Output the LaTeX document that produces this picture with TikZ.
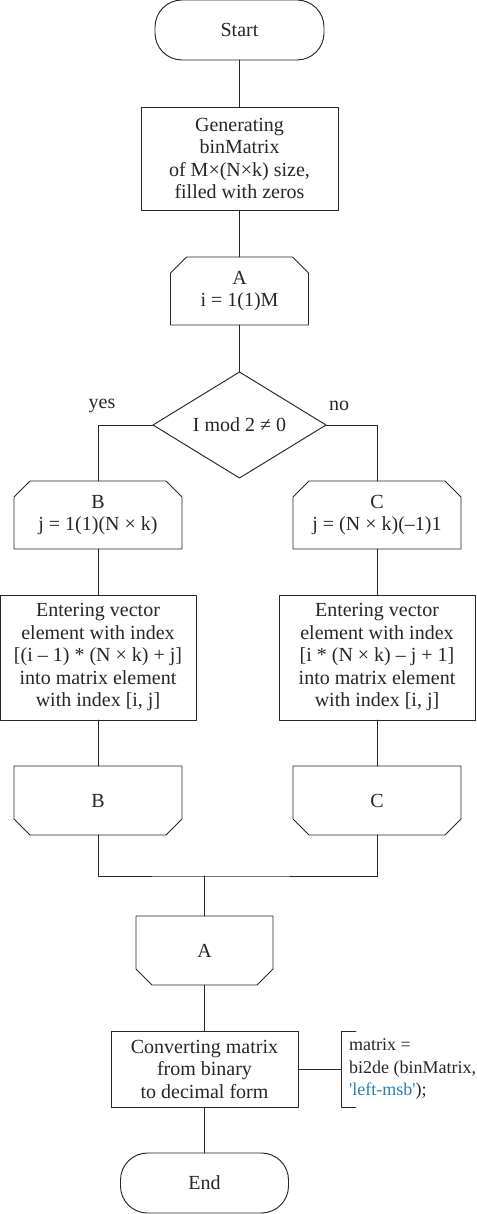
\documentclass[tikz,border=0pt]{standalone}
\usepackage{fontspec}
\setmainfont{Liberation Serif}
\usetikzlibrary{positioning,calc,shapes.geometric}
\definecolor{ink}{HTML}{262626}
\definecolor{msb}{HTML}{2B7BB9}

\begin{document}
\begin{tikzpicture}[
  x=1pt,
  y=-1pt,
  line cap=round,
  line join=round,
  every node/.style={
    align=center,
    text=ink,
    font=\fontsize{20}{22.5}\selectfont,
  },
  flow/.style={
    draw=ink,
    line width=0.95pt,
    inner sep=2pt,
    outer sep=0pt,
  },
  termbox/.style={
    flow,
    rounded corners=27pt,
    minimum width=169pt,
    minimum height=60pt,
  },
  procbox/.style={
    flow,
    minimum width=197pt,
  },
  decbox/.style={
    flow,
    diamond,
    aspect=1.63,
    inner sep=0pt,
    minimum width=173pt,
    minimum height=106pt,
  },
  cycbox/.style={
    inner sep=2pt,
    outer sep=0pt,
    minimum width=168pt,
    minimum height=68pt,
  },
  conn/.style={
    draw=ink,
    line width=0.95pt,
  },
  tag/.style={
    inner sep=1pt,
  },
]
\useasboundingbox (0,0) rectangle (476,1214);

% --- nodes ---
\node[termbox] (start) at (239.5,30) {Start};

\node[procbox, minimum height=103pt, below=47pt of start] (gen) {
  Generating\\
  binMatrix\\
  of M×(N×k) size,\\
  filled with zeros
};

\node[cycbox, minimum width=138pt, below=47pt of gen] (cycA) {
  A\\
  i = 1(1)M
};

\node[decbox, below=47pt of cycA] (dec) {I mod 2 ≠ 0};

\node[cycbox] (cycB) at (98,515) {
  B\\
  j = 1(1)(N × k)
};

\node[cycbox] (cycC) at (377,515) {
  C\\
  j = (N × k)(–1)1
};

\node[procbox, minimum width=196pt, minimum height=125pt, below=46pt of cycB] (entB) {
  Entering vector\\
  element with index\\
  {[}(i – 1) * (N × k) + j]\\
  into matrix element\\
  with index [i, j]
};

\node[procbox, minimum width=196pt, minimum height=125pt, below=46pt of cycC] (entC) {
  Entering vector\\
  element with index\\
  {[}i * (N × k) – j + 1]\\
  into matrix element\\
  with index [i, j]
};

\node[cycbox, minimum height=69pt, below=46pt of entB] (finB) {B};
\node[cycbox, minimum height=69pt, below=46pt of entC] (finC) {C};

\coordinate (mrg) at (204.5,876);

\node[cycbox, minimum width=137pt, minimum height=69pt, below=40pt of mrg] (finA) {A};

\node[procbox, minimum width=187pt, minimum height=76pt, below=46pt of finA] (conv) {
  Converting matrix\\
  from binary\\
  to decimal form
};

\node[termbox, minimum width=168pt, below=46pt of conv] (stop) {End};

\coordinate (brk) at ($(conv.east)+(43,0)$);
\node[anchor=west, align=left, inner sep=0pt, font=\fontsize{18}{22.5}\selectfont]
  (note) at ($(brk)+(8,0)$) {
  matrix =\\
  bi2de (binMatrix,\\
  {\color{msb}\textquotesingle left-msb\textquotesingle});
};

\node[tag] (yes) at ($(dec.west)+(-51,-19)$) {yes};
\node[tag] (no) at ($(dec.east)+(13,-19)$) {no};

% --- loop limits ---
\foreach \n in {cycA,cycB,cycC}
  \draw[conn] (\n.south west) -- ($(\n.north west)+(0,16)$)
    -- ($(\n.north west)+(16,0)$) -- ($(\n.north east)+(-16,0)$)
    -- ($(\n.north east)+(0,16)$) -- (\n.south east) -- cycle;
\foreach \n in {finA,finB,finC}
  \draw[conn] (\n.north west) -- ($(\n.south west)+(0,-16)$)
    -- ($(\n.south west)+(16,0)$) -- ($(\n.south east)+(-16,0)$)
    -- ($(\n.south east)+(0,-16)$) -- (\n.north east) -- cycle;

% --- connectors ---
\draw[conn] (start) -- (gen);
\draw[conn] (gen) -- (cycA);
\draw[conn] (cycA) -- (dec);
\draw[conn] (dec.west) -| (cycB.north);
\draw[conn] (dec.east) -| (cycC.north);
\draw[conn] (cycB) -- (entB);
\draw[conn] (cycC) -- (entC);
\draw[conn] (entB) -- (finB);
\draw[conn] (entC) -- (finC);
\draw[conn] (finB.south) |- (mrg) -| (finC.south);
\draw[conn] (mrg) -- (finA.north);
\draw[conn] (finA) -- (conv);
\draw[conn] (conv) -- (stop);

% --- comment ---
\draw[conn] (conv.east) -- (brk);
\draw[conn] ($(brk|-conv.north)+(15,0)$) -- (brk|-conv.north)
  -- (brk|-conv.south) -- ++(15,0);

\end{tikzpicture}
\end{document}
